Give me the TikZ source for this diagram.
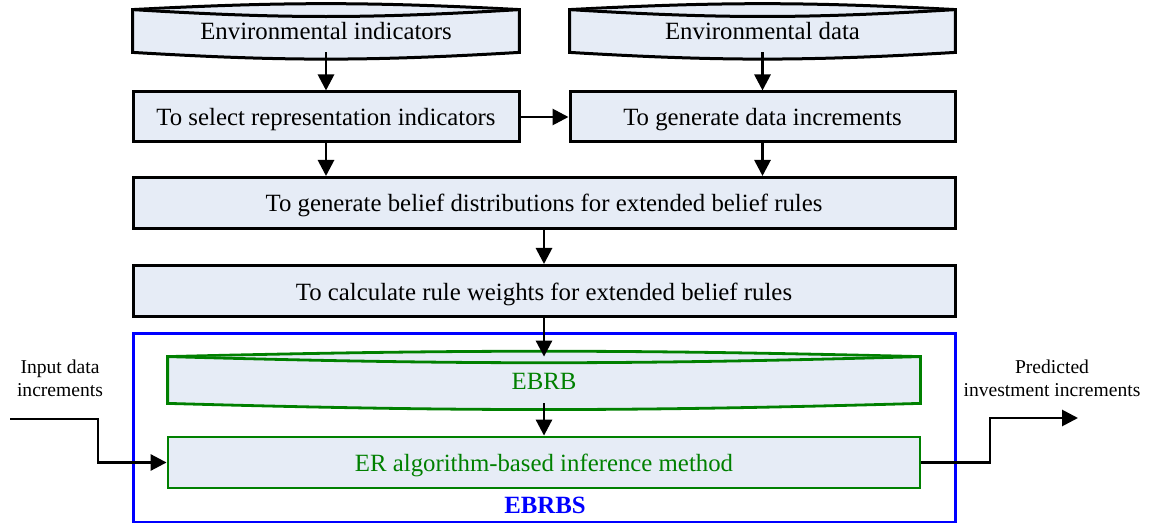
\documentclass[tikz,border=0pt]{standalone}
\usepackage{fontspec}
\setmainfont{Liberation Serif}
\usetikzlibrary{arrows.meta,backgrounds}
\definecolor{boxfill}{RGB}{230,236,246}
\definecolor{rulegreen}{RGB}{0,128,0}
\definecolor{frameblue}{RGB}{0,0,255}
\newcommand{\boxfont}{\fontsize{12.4}{14}\selectfont}
\newcommand{\sidefont}{\fontsize{9.8}{11.5}\selectfont}
\tikzset{
  procbox/.style={
    rectangle, draw=black, line width=1.5pt, fill=boxfill,
    minimum height=25pt, inner sep=0pt, font=\boxfont,
    text height=9.5pt, text depth=0.5pt
  },
  storebox/.style={
    rectangle, minimum height=21pt, inner sep=0pt, font=\boxfont,
    text height=9.5pt, text depth=0.5pt
  },
  storeline/.style={draw=black, line width=1.5pt, fill=boxfill},
  greenline/.style={draw=rulegreen, line width=1.4pt, fill=boxfill},
  frame/.style={
    rectangle, draw=frameblue, line width=1.5pt,
    minimum width=411pt, minimum height=94.5pt
  },
  sidelabel/.style={font=\sidefont, align=center, inner sep=0pt},
  arrow/.style={-{Triangle[length=8pt,width=8pt]}, line width=1.4pt}
}
% outline of a stored-data box: #1 node, #2 top arc, #3 inner arc, #4 bottom arc
\newcommand{\storeshape}[5]{%
  \filldraw[#5] (#1.north west) to[bend left=#2] (#1.north east)
    -- (#1.south east) to[bend left=#4] (#1.south west) -- cycle;
  \draw[#5] (#1.north west) to[bend right=#3] (#1.north east);
}

\begin{document}
\begin{tikzpicture}[x=0.5pt, y=0.5pt]
  \useasboundingbox (0,-523) rectangle (1149,0);

  % data sources
  \node[storebox, minimum width=193pt] (ind) at (326,-31) {Environmental indicators};
  \node[storebox, minimum width=192.5pt] (dat) at (762.5,-31) {Environmental data};

  % processing steps
  \node[procbox, minimum width=193pt] (sel) at (326,-117) {To select representation indicators};
  \node[procbox, minimum width=192.5pt] (gen) at (762.5,-117) {To generate data increments};
  \node[procbox, minimum width=411pt, minimum height=25.5pt] (bel) at (544,-203)
    {To generate belief distributions for extended belief rules};
  \node[procbox, minimum width=411pt, minimum height=25.5pt] (wgt) at (544,-291)
    {To calculate rule weights for extended belief rules};

  % inference system
  \node[frame] (ebrbs) at (544,-427.5) {};
  \node[storebox, minimum width=376pt, minimum height=23pt, text=rulegreen] (ebrb) at (544,-380) {EBRB};
  \node[procbox, draw=rulegreen, line width=1.4pt, minimum width=376pt, minimum height=25.5pt,
    text=rulegreen] (er) at (544,-462.5) {ER algorithm-based inference method};
  \node[font=\boxfont\bfseries, text=frameblue, inner sep=0pt] (ebrbslabel) at (545,-505) {EBRBS};

  \begin{scope}[on background layer]
    \storeshape{ind}{3}{3.5}{3.4}{storeline}
    \storeshape{dat}{3}{3.5}{3.4}{storeline}
    \storeshape{ebrb}{1.4}{1.6}{1.6}{greenline}
  \end{scope}

  % side labels
  \node[sidelabel] (inlabel) at (60,-378) {Input data\\increments};
  \node[sidelabel] (outlabel) at (1052,-378) {Predicted\\investment increments};
  \coordinate (inpt) at (10,-419);
  \coordinate (inbend) at (98,-419);
  \coordinate (outbend) at (990,-418);
  \coordinate (outpt) at (1078,-418);

  % connectors
  \draw[arrow] (ind) -- (sel);
  \draw[arrow] (dat) -- (gen);
  \draw[arrow] (sel) -- (gen);
  \draw[arrow] (sel.south) -- (sel.south |- bel.north);
  \draw[arrow] (gen.south) -- (gen.south |- bel.north);
  \draw[arrow] (bel) -- (wgt);
  \draw[arrow] (wgt) -- (ebrb);
  \draw[arrow] (ebrb) -- (er);
  \draw[arrow] (inpt) -- (inbend) |- (er.west);
  \draw[arrow] (er.east) -| (outbend) -- (outpt);
\end{tikzpicture}
\end{document}
